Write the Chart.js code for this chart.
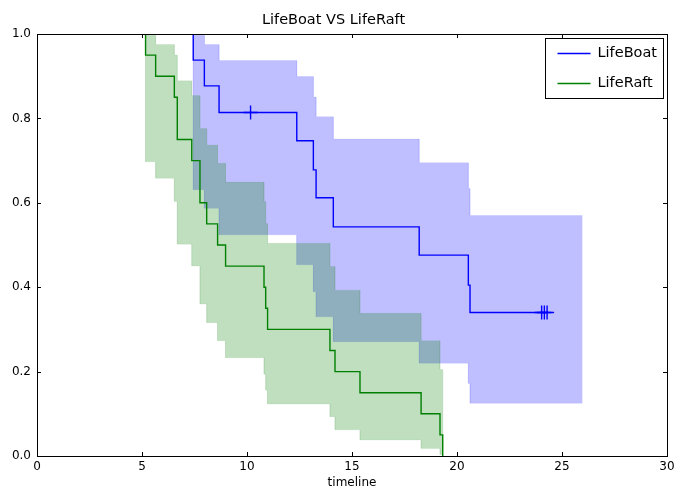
<!DOCTYPE html>
<html>
<head>
<meta charset="utf-8">
<script src="https://cdn.jsdelivr.net/npm/chart.js@4/dist/chart.umd.min.js"></script>
<style>
  html, body { margin: 0; padding: 0; background: #fff; }
  #wrap { width: 692px; height: 490px; }
</style>
</head>
<body>
<div id="wrap"><canvas id="c" width="692" height="490"></canvas></div>
<script>
// ---- Data ----
const xTicks = [0, 5, 10, 15, 20, 25, 30];
const yTicks = [0.0, 0.2, 0.4, 0.6, 0.8, 1.0];

// LifeBoat (Kaplan-Meier estimate)
const boatTimes = [7.44, 7.97, 8.67, 12.37, 13.16, 13.29, 14.11, 18.2, 20.54, 20.62];
const boatSurv  = [0.938, 0.877, 0.814, 0.747, 0.678, 0.612, 0.543, 0.476, 0.405, 0.340];
const boatUpper = [0.997, 0.975, 0.937, 0.899, 0.851, 0.804, 0.751, 0.695, 0.634, 0.570];
const boatLower = [0.631, 0.587, 0.524, 0.453, 0.389, 0.330, 0.271, 0.220, 0.172, 0.125];
const boatCensorT = [10.17, 24.03, 24.16, 24.29];
const boatCensorS = [0.814, 0.340, 0.340, 0.340];
const boatLineEnd = 24.29;
const boatBandEnd = 25.98;

// LifeRaft (Kaplan-Meier estimate)
const raftTimes = [5.17, 5.65, 6.54, 6.68, 7.37, 7.76, 8.08, 8.6, 8.98, 10.81, 10.89, 10.98, 13.95, 14.19, 15.38, 18.29, 19.19, 19.32];
const raftSurv  = [0.95, 0.90, 0.85, 0.75, 0.70, 0.60, 0.55, 0.50, 0.45, 0.40, 0.35, 0.30, 0.25, 0.20, 0.15, 0.10, 0.05, 0.0];
const raftUpper = [0.997, 0.975, 0.950, 0.889, 0.854, 0.776, 0.737, 0.694, 0.649, 0.603, 0.551, 0.504, 0.449, 0.393, 0.338, 0.273, 0.205, 0.0];
const raftLower = [0.697, 0.658, 0.603, 0.502, 0.450, 0.360, 0.316, 0.273, 0.233, 0.194, 0.156, 0.123, 0.093, 0.062, 0.038, 0.018, 0.003, 0.0];
const raftLineEnd = 19.32;
const raftBandEnd = 19.32;

// ---- helpers: build post-step point lists from the arrays ----
function steps(times, vals, end) {
  const pts = [{x: 0, y: 1}];
  let prev = 1;
  times.forEach((t, i) => {
    pts.push({x: t, y: prev});
    pts.push({x: t, y: vals[i]});
    prev = vals[i];
  });
  if (end > times[times.length - 1]) pts.push({x: end, y: prev});
  return pts;
}

const FONT = "'DejaVu Sans', 'Liberation Sans', sans-serif";

const blueFill = 'rgba(0,0,255,0.25)';
const greenFill = 'rgba(0,128,0,0.25)';
const blueEdge = 'rgba(0,0,255,0.07)';
const greenEdge = 'rgba(0,128,0,0.07)';

const datasets = [
  { // 0 boat lower
    label: 'boatLower', data: steps(boatTimes, boatLower, boatBandEnd),
    borderColor: blueEdge, borderWidth: 1, pointRadius: 0, fill: false, order: 10
  },
  { // 1 boat upper
    label: 'boatUpper', data: steps(boatTimes, boatUpper, boatBandEnd),
    borderColor: blueEdge, borderWidth: 1, pointRadius: 0,
    backgroundColor: blueFill, fill: '-1', order: 9
  },
  { // 2 boat line
    label: 'LifeBoat', data: steps(boatTimes, boatSurv, boatLineEnd),
    borderColor: '#0000ff', borderWidth: 1.4, pointRadius: 0, fill: false, order: 8
  },
  { // 3 boat censors
    label: 'boatCensor', data: boatCensorT.map((t, i) => ({x: t, y: boatCensorS[i]})),
    showLine: false, pointStyle: 'cross', pointRadius: 7, pointBorderWidth: 1.4,
    borderColor: '#0000ff', pointBorderColor: '#0000ff', fill: false, order: 7
  },
  { // 4 raft lower
    label: 'raftLower', data: steps(raftTimes, raftLower, raftBandEnd),
    borderColor: greenEdge, borderWidth: 1, pointRadius: 0, fill: false, order: 6
  },
  { // 5 raft upper
    label: 'raftUpper', data: steps(raftTimes, raftUpper, raftBandEnd),
    borderColor: greenEdge, borderWidth: 1, pointRadius: 0,
    backgroundColor: greenFill, fill: '-1', order: 5
  },
  { // 6 raft line
    label: 'LifeRaft', data: steps(raftTimes, raftSurv, raftLineEnd),
    borderColor: '#008000', borderWidth: 1.4, pointRadius: 0, fill: false, order: 4
  }
];

const legendItems = [
  {text: 'LifeBoat', color: '#0000ff'},
  {text: 'LifeRaft', color: '#008000'}
];

// Frame, inward ticks and legend (matplotlib classic look)
const framePlugin = {
  id: 'frame',
  afterDatasetsDraw(chart) {
    const ctx = chart.ctx, a = chart.chartArea;
    const xs = chart.scales.x, ys = chart.scales.y;
    ctx.save();
    ctx.strokeStyle = '#000';
    ctx.lineWidth = 1;
    ctx.beginPath();
    xTicks.forEach(v => {
      const px = Math.round(xs.getPixelForValue(v)) + 0.5;
      ctx.moveTo(px, a.bottom); ctx.lineTo(px, a.bottom - 4);
      ctx.moveTo(px, a.top); ctx.lineTo(px, a.top + 4);
    });
    yTicks.forEach(v => {
      const py = Math.round(ys.getPixelForValue(v)) + 0.5;
      ctx.moveTo(a.left, py); ctx.lineTo(a.left + 4, py);
      ctx.moveTo(a.right, py); ctx.lineTo(a.right - 4, py);
    });
    ctx.stroke();
    ctx.strokeRect(Math.round(a.left) + 0.5, Math.round(a.top) + 0.5,
                   Math.round(a.right - a.left), Math.round(a.bottom - a.top));

    // legend
    const bw = 118, bh = 60;
    const bx = Math.round(a.right - 122) + 0.5, by = Math.round(a.top + 4) + 0.5;
    ctx.fillStyle = '#fff';
    ctx.fillRect(bx, by, bw, bh);
    ctx.strokeStyle = '#000';
    ctx.strokeRect(bx, by, bw, bh);
    ctx.font = '14.5px ' + FONT;
    ctx.textBaseline = 'middle';
    ctx.textAlign = 'left';
    legendItems.forEach((it, i) => {
      const cy = by + 15 + i * 30;
      ctx.strokeStyle = it.color;
      ctx.lineWidth = 1.5;
      ctx.beginPath();
      ctx.moveTo(bx + 12, cy); ctx.lineTo(bx + 45, cy);
      ctx.stroke();
      ctx.fillStyle = '#000';
      ctx.fillText(it.text, bx + 52, cy);
    });
    ctx.restore();
  }
};

new Chart(document.getElementById('c'), {
  type: 'line',
  data: { datasets },
  options: {
    responsive: false,
    animation: false,
    devicePixelRatio: 1,
    layout: { padding: { left: 0, right: 25, top: 0, bottom: 0 } },
    elements: { line: { tension: 0 } },
    plugins: {
      legend: { display: false },
      tooltip: { enabled: false },
      title: {
        display: true,
        text: 'LifeBoat VS LifeRaft',
        color: '#000',
        font: { family: FONT, size: 14.5, weight: 'normal', lineHeight: 1.2 },
        padding: { top: 12, bottom: 4.6 }
      }
    },
    scales: {
      x: {
        type: 'linear', min: 0, max: 30,
        afterFit(s) { s.height = 34; },
        afterBuildTicks(s) { s.ticks = xTicks.map(v => ({value: v})); },
        grid: { display: false, drawTicks: false },
        border: { display: false },
        ticks: { color: '#000', padding: 4, maxRotation: 0, autoSkip: false,
                 font: { family: FONT, size: 12 }, callback: v => String(v) },
        title: { display: true, text: 'timeline', color: '#000',
                 font: { family: FONT, size: 12 }, padding: { top: 0, bottom: 0 } }
      },
      y: {
        type: 'linear', min: 0, max: 1,
        afterFit(s) { s.width = 37; },
        afterBuildTicks(s) { s.ticks = yTicks.map(v => ({value: v})); },
        grid: { display: false, drawTicks: false },
        border: { display: false },
        ticks: { color: '#000', padding: 6, autoSkip: false,
                 font: { family: FONT, size: 12 }, callback: v => Number(v).toFixed(1) }
      }
    }
  },
  plugins: [framePlugin]
});
</script>
</body>
</html>
